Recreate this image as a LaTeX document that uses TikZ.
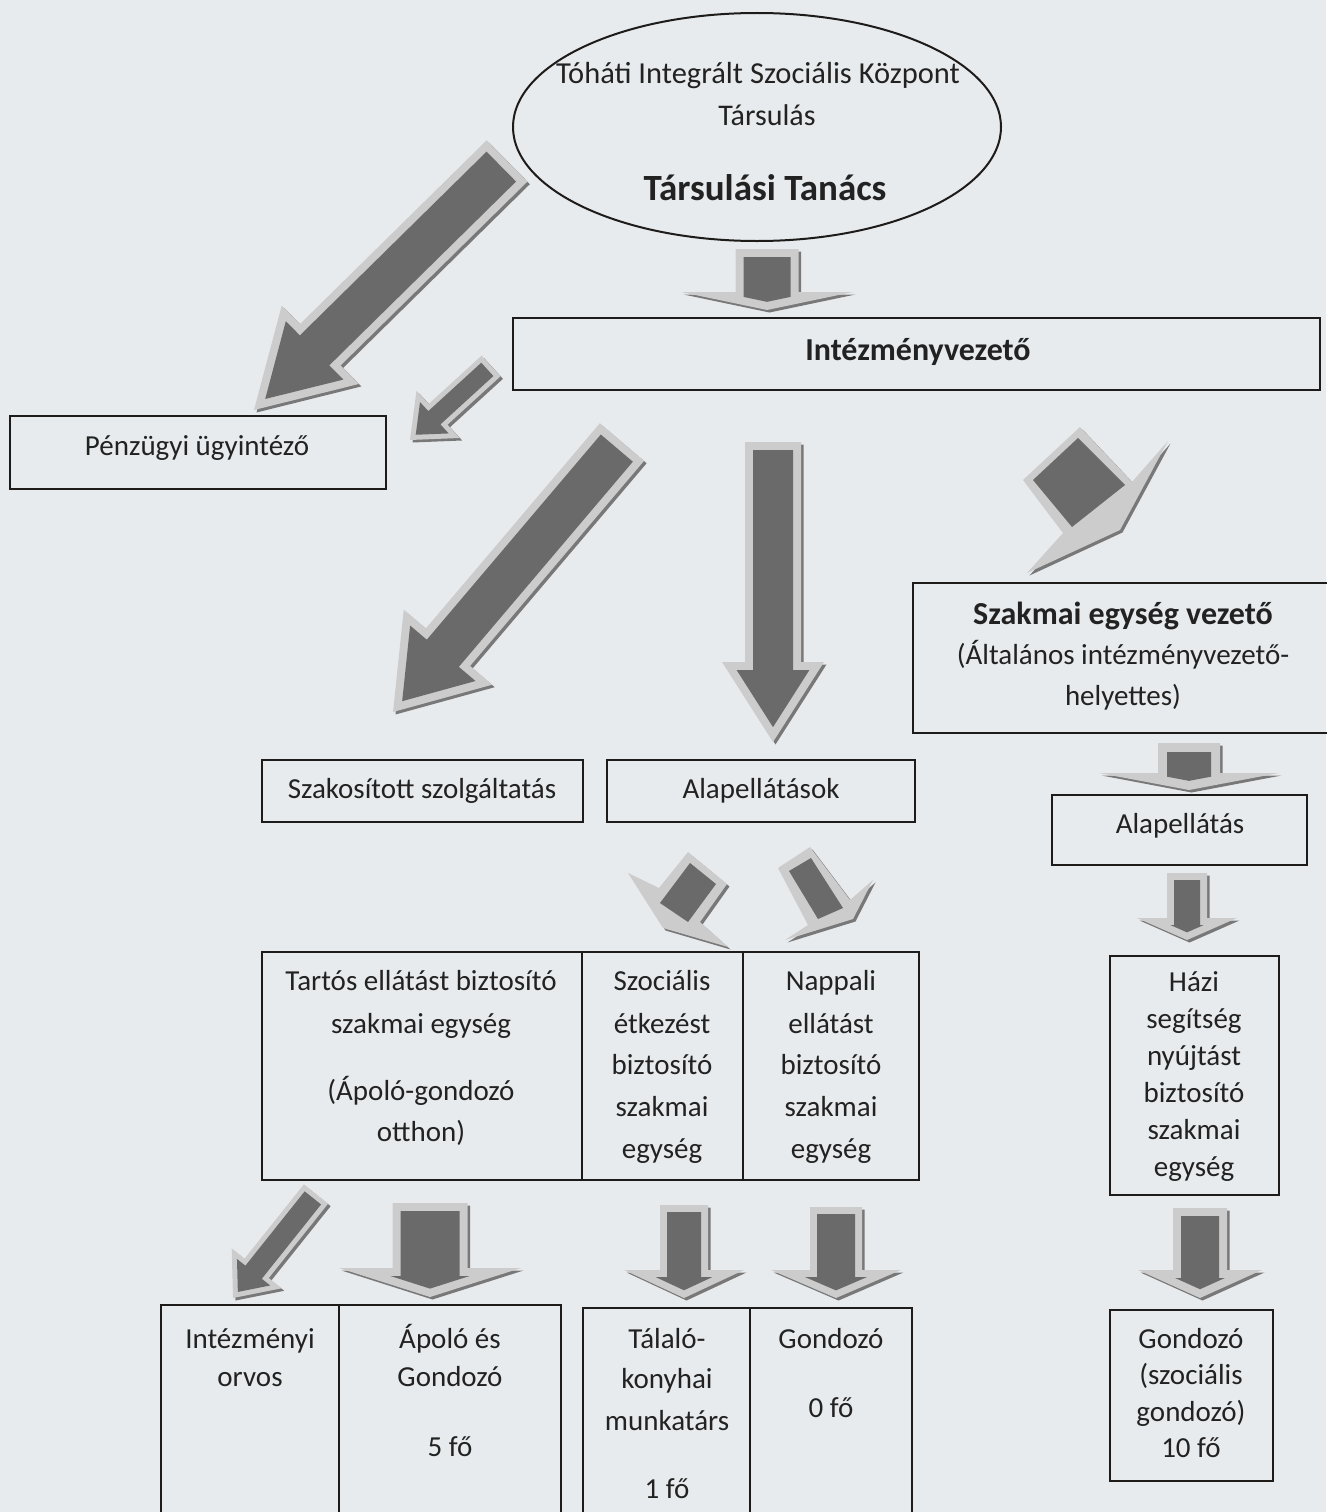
\documentclass[tikz,border=0pt]{standalone}
\usepackage{fontspec}
\setmainfont{Carlito}
\usetikzlibrary{shapes.geometric}
\definecolor{bgc}{RGB}{232,235,237}
\definecolor{arlight}{RGB}{204,204,204}
\definecolor{ardark}{RGB}{106,106,106}
\definecolor{arshad}{RGB}{120,120,120}
\definecolor{lnc}{RGB}{30,28,26}
\definecolor{txc}{RGB}{34,34,34}

% block arrow: tail x,y ; tip x,y ; half shaft ; half head ; head length ; inset
\newcommand\blockarr[8]{%
\pgfmathsetmacro\arLx{#3-#1}%
\pgfmathsetmacro\arLy{#4-#2}%
\pgfmathsetmacro\arL{veclen(\arLx,\arLy)}%
\pgfmathsetmacro\arux{\arLx/\arL}%
\pgfmathsetmacro\aruy{\arLy/\arL}%
\pgfmathsetmacro\arnux{-\arux}%
\pgfmathsetmacro\arnuy{-\aruy}%
\pgfmathsetmacro\arsN{\arL-#7}%
\pgfmathsetmacro\arwi{#5-#8}%
\pgfmathsetmacro\arsP{\arL-#8*veclen(#6,#7)/#6}%
\pgfmathsetmacro\arsc{\arsP-\arwi*#7/#6}%
\pgfmathsetmacro\arsone{min(\arsN+#8,\arsc)}%
\pgfmathsetmacro\artb{(\arsP-\arsone)*#6/#7}%
\begin{scope}[shift={(#1,#2)},x={(\arux pt,\arnuy pt)},y={(\arnuy pt,\arnux pt)}]
\fill[arshad,shift={(2.5pt,-2.5pt)}] (0,#5) -- (\arsN,#5) -- (\arsN,#6) -- (\arL,0) -- (\arsN,-#6) -- (\arsN,-#5) -- (0,-#5) -- cycle;
\fill[arlight] (0,#5) -- (\arsN,#5) -- (\arsN,#6) -- (\arL,0) -- (\arsN,-#6) -- (\arsN,-#5) -- (0,-#5) -- cycle;
\fill[ardark] (#8,\arwi) -- (\arsone,\arwi) -- (\arsone,\artb) -- (\arsP,0) -- (\arsone,-\artb) -- (\arsone,-\arwi) -- (#8,-\arwi) -- cycle;
\end{scope}}

% perspective arrow: outer path ; dark face path
\newcommand\perarr[2]{%
\fill[arshad,shift={(2.5,2.5)}] #1;
\fill[arlight] #1;
\fill[ardark] #2;}

\begin{document}
\begin{tikzpicture}[x=1pt,y=-1pt,
  box/.style={draw=lnc,line width=2pt,inner sep=0pt,outer sep=0pt,anchor=north west},
  dl/.style={draw=lnc,line width=1.6pt},
  txt/.style={font=\fontsize{29}{34}\selectfont,inner sep=0pt,anchor=base,text=txc},
  btxt/.style={txt,font=\bfseries\fontsize{32}{38}\selectfont}]
\fill[bgc] (0,0) rectangle (1326,1512);
\useasboundingbox (0,0) rectangle (1326,1512);

% ---------- ellipse ----------
\node[draw=lnc,line width=2pt,ellipse,minimum width=488pt,minimum height=228pt,inner sep=0pt,outer sep=0pt] (ell) at (757,127) {};
\node[txt,font=\fontsize{30.5}{34}\selectfont] (e1) at (758,84) {Tóháti Integrált Szociális Központ};
\node[txt,font=\fontsize{30}{34}\selectfont] (e2) at (767,125) {Társulás};
\node[txt,font=\bfseries\fontsize{37}{42}\selectfont] (e3) at (765,200) {Társulási Tanács};

% ---------- boxes ----------
\node[box,minimum width=807pt,minimum height=72pt] (intv) at (513,318) {};
\node[btxt] (intvt) at (918,360) {Intézményvezető};

\node[box,minimum width=376pt,minimum height=73pt] (penz) at (10,416) {};
\node[txt] (penzt) at (197,455) {Pénzügyi ügyintéző};

\node[box,minimum width=420pt,minimum height=150pt] (szev) at (913,583) {};
\node[btxt] (szev1) at (1123,624) {Szakmai egység vezető};
\node[txt] (szev2) at (1123,664) {(Általános intézményvezető-};
\node[txt] (szev3) at (1123,705) {helyettes)};

\node[box,minimum width=321pt,minimum height=62pt] (szak) at (262,760) {};
\node[txt] (szakt) at (422,798) {Szakosított szolgáltatás};

\node[box,minimum width=308pt,minimum height=62pt] (alap) at (607,760) {};
\node[txt] (alapt) at (761,798) {Alapellátások};

\node[box,minimum width=255pt,minimum height=70pt] (alap2) at (1052,795) {};
\node[txt] (alap2t) at (1180,833) {Alapellátás};

% big table
\node[box,minimum width=657pt,minimum height=228pt] (tart) at (262,952) {};
\draw[dl] ([xshift=320pt]tart.north west) -- ([xshift=320pt]tart.south west);
\draw[dl] ([xshift=481pt]tart.north west) -- ([xshift=481pt]tart.south west);
\node[txt] (t11) at (421,990) {Tartós ellátást biztosító};
\node[txt] (t12) at (421,1033) {szakmai egység};
\node[txt] (t13) at (421,1100) {(Ápoló-gondozó};
\node[txt] (t14) at (421,1141) {otthon)};
\node[txt] (t21) at (662,990) {Szociális};
\node[txt] (t22) at (662,1033) {étkezést};
\node[txt] (t23) at (662,1074) {biztosító};
\node[txt] (t24) at (662,1116) {szakmai};
\node[txt] (t25) at (662,1158) {egység};
\node[txt] (t31) at (831,990) {Nappali};
\node[txt] (t32) at (831,1033) {ellátást};
\node[txt] (t33) at (831,1074) {biztosító};
\node[txt] (t34) at (831,1116) {szakmai};
\node[txt] (t35) at (831,1158) {egység};

% Házi
\node[box,minimum width=169pt,minimum height=239pt] (hazi) at (1110,956) {};
\node[txt] (h1) at (1194,991) {Házi};
\node[txt] (h2) at (1194,1028) {segítség};
\node[txt] (h3) at (1194,1065) {nyújtást};
\node[txt] (h4) at (1194,1102) {biztosító};
\node[txt] (h5) at (1194,1139) {szakmai};
\node[txt] (h6) at (1194,1176) {egység};

% bottom table A
\node[box,minimum width=400pt,minimum height=230pt] (intorv) at (161,1305) {};
\draw[dl] ([xshift=178pt]intorv.north west) -- ([xshift=178pt]intorv.south west);
\node[txt] (b11) at (250,1348) {Intézményi};
\node[txt] (b12) at (250,1386) {orvos};
\node[txt] (b21) at (450,1348) {Ápoló és};
\node[txt] (b22) at (450,1386) {Gondozó};
\node[txt] (b23) at (450,1456) {5 fő};

% bottom table B
\node[box,minimum width=329pt,minimum height=230pt] (talalo) at (583,1308) {};
\draw[dl] ([xshift=167pt]talalo.north west) -- ([xshift=167pt]talalo.south west);
\node[txt] (c11) at (667,1348) {Tálaló-};
\node[txt] (c12) at (667,1388) {konyhai};
\node[txt] (c13) at (667,1430) {munkatárs};
\node[txt] (c14) at (667,1498) {1 fő};
\node[txt] (c21) at (831,1348) {Gondozó};
\node[txt] (c22) at (831,1417) {0 fő};

% right Gondozó
\node[box,minimum width=163pt,minimum height=171pt] (gond) at (1110,1310) {};
\node[txt] (g1) at (1191,1348) {Gondozó};
\node[txt] (g2) at (1191,1384) {(szociális};
\node[txt] (g3) at (1191,1421) {gondozó)};
\node[txt] (g4) at (1191,1457) {10 fő};

% ---------- arrows ----------
\blockarr{767}{249}{767}{310}{31.5}{86}{18}{8}
\blockarr{507}{161}{254}{410}{29}{55}{93}{8}
\blockarr{491}{366}{410}{440}{14}{32}{38}{5}
\blockarr{622}{442}{393}{712}{29}{58}{85}{8}
\blockarr{773}{442}{773}{742}{28}{51}{80}{8}
\blockarr{1189}{743}{1189}{790}{31}{90}{17}{9}
\blockarr{1187}{873}{1187}{940}{20}{50}{22}{7}
\blockarr{316}{1194}{233}{1298}{15.5}{32}{38}{5}
\blockarr{430}{1203}{430}{1297}{37.5}{91}{29}{8}
\blockarr{684}{1205}{684}{1298}{24}{60}{28}{7}
\blockarr{836}{1207}{836}{1298}{26}{65}{28}{7}
\blockarr{1200}{1208}{1200}{1298}{27}{62}{28}{8}

% perspective arrows
\perarr{(1080,427) -- (1023,480) -- (1063,533) -- (1027,573) -- (1120,530) -- (1168,441) -- (1132,482) -- cycle}
       {(1078,438) -- (1033,480) -- (1072,527) -- (1125,485) -- cycle}
\perarr{(688,852) -- (727,884) -- (700,922) -- (728,947) -- (663,928) -- (628,873) -- (659,888) -- cycle}
       {(690,863) -- (716,884) -- (688,922) -- (660,903) -- cycle}
\perarr{(778,868) -- (810,847) -- (850,900) -- (873,880) -- (853,919) -- (785,940) -- (808,925) -- cycle}
       {(789,871) -- (811,858) -- (843,908) -- (818,919) -- cycle}
\end{tikzpicture}
\end{document}
